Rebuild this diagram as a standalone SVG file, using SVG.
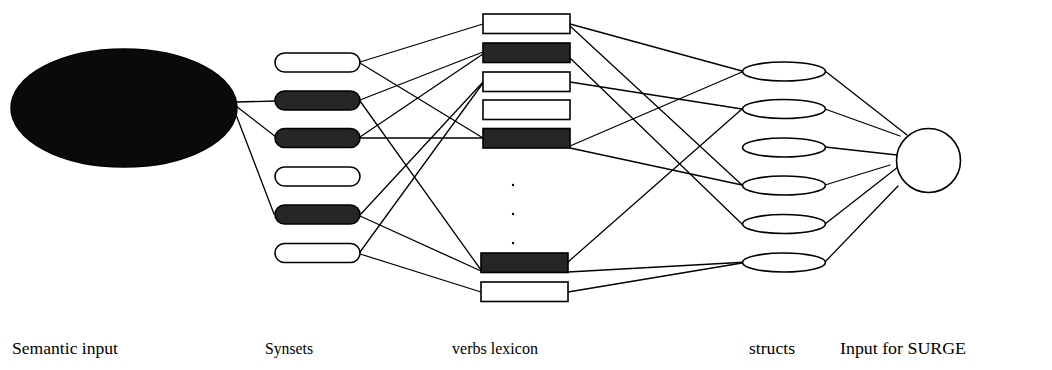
<svg xmlns="http://www.w3.org/2000/svg" width="1052" height="370" viewBox="0 0 1052 370">
  <style>
    .edge { stroke: #000; stroke-width: 1.3; fill: none; stroke-linecap: round; }
    .plain { fill: #fff; stroke: #000; stroke-width: 1.6; }
    .dark { fill: #262626; stroke: #000; stroke-width: 1.6; }
    .lbl { font-family: "Liberation Serif", "Times New Roman", serif; font-size: 17.5px; fill: #000; }
  </style>
  <rect width="1052" height="370" fill="#fff"/>

  <!-- connectors -->
  <g id="connectors" class="edge">
    <!-- semantic input to synsets -->
    <line x1="236" y1="102" x2="275" y2="101"/>
    <line x1="236" y1="106" x2="276" y2="137"/>
    <line x1="235" y1="112" x2="274" y2="214"/>
    <!-- synsets to verbs lexicon -->
    <line x1="360" y1="62" x2="483" y2="24"/>
    <line x1="360" y1="63" x2="483" y2="138"/>
    <line x1="360" y1="100" x2="483" y2="52"/>
    <line x1="360" y1="101" x2="481" y2="270"/>
    <line x1="360" y1="137" x2="483" y2="54"/>
    <line x1="360" y1="138" x2="483" y2="138"/>
    <line x1="360" y1="215" x2="483" y2="82"/>
    <line x1="360" y1="216" x2="481" y2="271"/>
    <line x1="360" y1="252" x2="483" y2="83"/>
    <line x1="360" y1="254" x2="481" y2="292"/>
    <!-- verbs lexicon to structs -->
    <line x1="570" y1="24" x2="742" y2="71"/>
    <line x1="570" y1="26" x2="742" y2="185"/>
    <line x1="570" y1="58" x2="742" y2="224"/>
    <line x1="570" y1="82" x2="742" y2="109"/>
    <line x1="570" y1="146" x2="742" y2="72"/>
    <line x1="570" y1="148" x2="742" y2="185"/>
    <line x1="568" y1="262" x2="742" y2="109"/>
    <line x1="568" y1="272" x2="748" y2="262"/>
    <line x1="568" y1="292" x2="748" y2="262"/>
    <!-- structs to SURGE input -->
    <line x1="825" y1="71" x2="907" y2="135"/>
    <line x1="825" y1="109" x2="900" y2="136"/>
    <line x1="825" y1="147" x2="897" y2="155"/>
    <line x1="825" y1="185" x2="890" y2="165"/>
    <line x1="825" y1="224" x2="898" y2="167"/>
    <line x1="825" y1="262" x2="898" y2="186"/>
  </g>

  <!-- semantic input -->
  <g id="semantic-input">
    <ellipse cx="124" cy="108" rx="113" ry="59" fill="#0a0a0a" stroke="#000" stroke-width="1.5"/>
  </g>

  <!-- synsets -->
  <g id="synset-1"><rect class="plain" x="275" y="53" width="85" height="19" rx="9.5"/></g>
  <g id="synset-2"><rect class="dark" x="275" y="91" width="85" height="19" rx="9.5"/></g>
  <g id="synset-3"><rect class="dark" x="275" y="128.5" width="85" height="19" rx="9.5"/></g>
  <g id="synset-4"><rect class="plain" x="275" y="167" width="85" height="19" rx="9.5"/></g>
  <g id="synset-5"><rect class="dark" x="275" y="205" width="85" height="19" rx="9.5"/></g>
  <g id="synset-6"><rect class="plain" x="275" y="243.5" width="85" height="19" rx="9.5"/></g>

  <!-- verbs lexicon -->
  <g id="verb-1"><rect class="plain" x="483" y="14" width="87" height="19.5"/></g>
  <g id="verb-2"><rect class="dark" x="483" y="43" width="87" height="19.5"/></g>
  <g id="verb-3"><rect class="plain" x="483" y="72" width="87" height="19.5"/></g>
  <g id="verb-4"><rect class="plain" x="483" y="100" width="87" height="19.5"/></g>
  <g id="verb-5"><rect class="dark" x="483" y="128.5" width="87" height="19.5"/></g>
  <g id="verb-ellipsis" fill="#000">
    <circle cx="513" cy="185" r="1.2"/>
    <circle cx="513" cy="214" r="1.2"/>
    <circle cx="513" cy="243" r="1.2"/>
  </g>
  <g id="verb-6"><rect class="dark" x="481" y="253" width="87" height="19.5"/></g>
  <g id="verb-7"><rect class="plain" x="481" y="282" width="87" height="19.5"/></g>

  <!-- structs -->
  <g id="struct-1"><ellipse class="plain" cx="784" cy="71.5" rx="41.5" ry="9.5"/></g>
  <g id="struct-2"><ellipse class="plain" cx="784" cy="109" rx="41.5" ry="9.5"/></g>
  <g id="struct-3"><ellipse class="plain" cx="784" cy="147.5" rx="41.5" ry="9.5"/></g>
  <g id="struct-4"><ellipse class="plain" cx="784" cy="185.5" rx="41.5" ry="9.5"/></g>
  <g id="struct-5"><ellipse class="plain" cx="784" cy="224" rx="41.5" ry="9.5"/></g>
  <g id="struct-6"><ellipse class="plain" cx="784" cy="262.5" rx="41.5" ry="9.5"/></g>

  <!-- input for SURGE -->
  <g id="surge-input"><circle class="plain" cx="928.5" cy="160.5" r="32"/></g>

  <!-- column labels -->
  <g id="labels">
    <text class="lbl" x="12" y="354" textLength="106" lengthAdjust="spacingAndGlyphs">Semantic input</text>
    <text class="lbl" x="265" y="354" textLength="48" lengthAdjust="spacingAndGlyphs">Synsets</text>
    <text class="lbl" x="452" y="354" textLength="86" lengthAdjust="spacingAndGlyphs">verbs lexicon</text>
    <text class="lbl" x="749" y="354" textLength="46" lengthAdjust="spacingAndGlyphs">structs</text>
    <text class="lbl" x="840" y="354" textLength="126" lengthAdjust="spacingAndGlyphs">Input for SURGE</text>
  </g>
</svg>
